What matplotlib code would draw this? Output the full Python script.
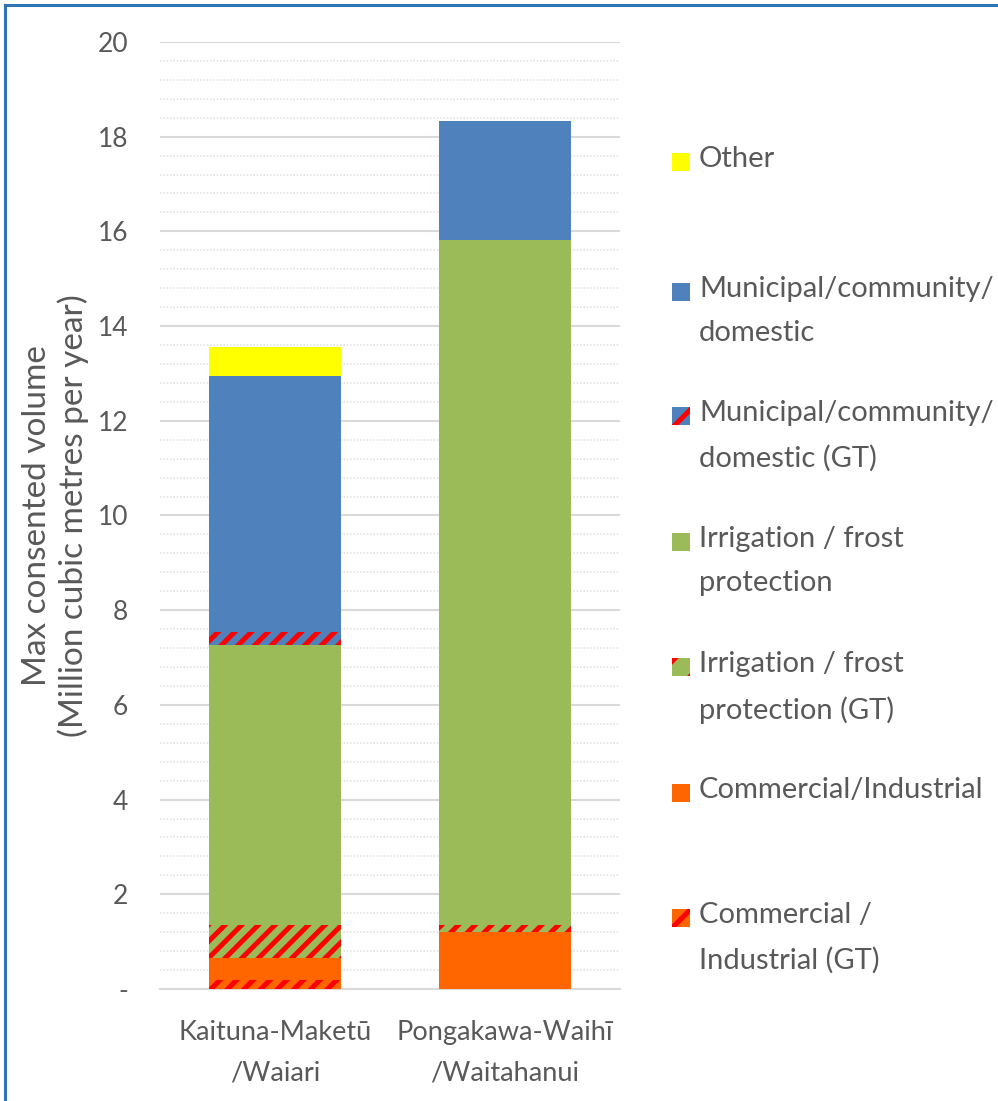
import numpy as np
import matplotlib
matplotlib.use('Agg')
import matplotlib.pyplot as plt
from matplotlib.patches import Rectangle
from matplotlib.lines import Line2D

plt.rcParams['font.family'] = ['Lato', 'DejaVu Sans']
plt.rcParams['hatch.linewidth'] = 3.6

catchments = ['Kaituna-Maketū\n/Waiari', 'Pongakawa-Waihī\n/Waitahanui']

# stacked from the bottom up (million m3 / year)
commercial_gt = [0.20, 0.0]
commercial = [0.45, 1.20]
irrigation_gt = [0.70, 0.15]
irrigation = [5.91, 14.47]
municipal_gt = [0.28, 0.0]
municipal = [5.41, 2.51]
other = [0.61, 0.0]

series = [
    ('Commercial /\nIndustrial (GT)', commercial_gt, '#FF6600', True),
    ('Commercial/Industrial', commercial, '#FF6600', False),
    ('Irrigation / frost\nprotection (GT)', irrigation_gt, '#9BBB59', True),
    ('Irrigation / frost\nprotection', irrigation, '#9BBB59', False),
    ('Municipal/community/\ndomestic (GT)', municipal_gt, '#4F81BD', True),
    ('Municipal/community/\ndomestic', municipal, '#4F81BD', False),
    ('Other', other, '#FFFF00', False),
]

txt = '#595959'
fig = plt.figure(figsize=(9.98, 11.01), dpi=100)
ax = fig.add_axes([0.1603, 0.1017, 0.4609, 0.8602])

x = np.arange(len(catchments))
bottom = np.zeros(len(catchments))
for label, vals, col, gt in series:
    vals = np.array(vals)
    if gt:
        ax.bar(x, vals, 0.577, bottom=bottom, color=col, edgecolor='#FF0000',
               linewidth=0, hatch='//', zorder=3)
    else:
        ax.bar(x, vals, 0.577, bottom=bottom, color=col, linewidth=0, zorder=3)
    bottom += vals

ax.set_xlim(-0.5, 1.5)
ax.set_ylim(0, 20)
ax.set_yticks(np.arange(0, 21, 2))
ax.set_yticklabels(['-'] + [str(v) for v in range(2, 21, 2)])
ax.set_yticks(np.arange(0, 20.01, 0.4), minor=True)
ax.grid(axis='y', which='major', color='#D9D9D9', linewidth=1.5, zorder=0)
ax.grid(axis='y', which='minor', color='#E3E3E3', linewidth=1.2,
        linestyle=(0, (1, 1)), zorder=0)
ax.set_xticks(x)
ax.set_xticklabels(catchments, multialignment='center', linespacing=1.8)
ax.tick_params(axis='both', which='both', length=0, colors=txt)
ax.tick_params(axis='y', labelsize=19, pad=23)
ax.tick_params(axis='x', labelsize=19.5, pad=22)
for s in ['top', 'right', 'left']:
    ax.spines[s].set_visible(False)
ax.spines['bottom'].set_color('#D9D9D9')
ax.spines['bottom'].set_linewidth(1.5)

ax.set_ylabel('Max consented volume\n(Million cubic metres per year)',
              fontsize=24, color=txt, labelpad=6, linespacing=1.2)

# legend, top entry first
W, H = 998.0, 1101.0
slot_tops = [146, 276, 400, 526, 651, 777, 902]
for (label, vals, col, gt), ytop in zip(series[::-1], slot_tops):
    rect = Rectangle((672 / W, 1 - (ytop + 25) / H), 18 / W, 18 / H,
                     transform=fig.transFigure, facecolor=col,
                     edgecolor='#FF0000' if gt else col, linewidth=0,
                     hatch='/' if gt else None)
    fig.add_artist(rect)
    fig.text(699 / W, 1 - ytop / H, label, color=txt, fontsize=21,
             va='top', ha='left', linespacing=1.85)

# outer frame
fig.add_artist(Line2D([5 / W, 5 / W], [0, 1 - 5 / H], transform=fig.transFigure,
                      color='#2E75B6', linewidth=2.2))
fig.add_artist(Line2D([5 / W, 1], [1 - 5 / H, 1 - 5 / H], transform=fig.transFigure,
                      color='#2E75B6', linewidth=2.2))

fig.savefig('out.png', dpi=100)
